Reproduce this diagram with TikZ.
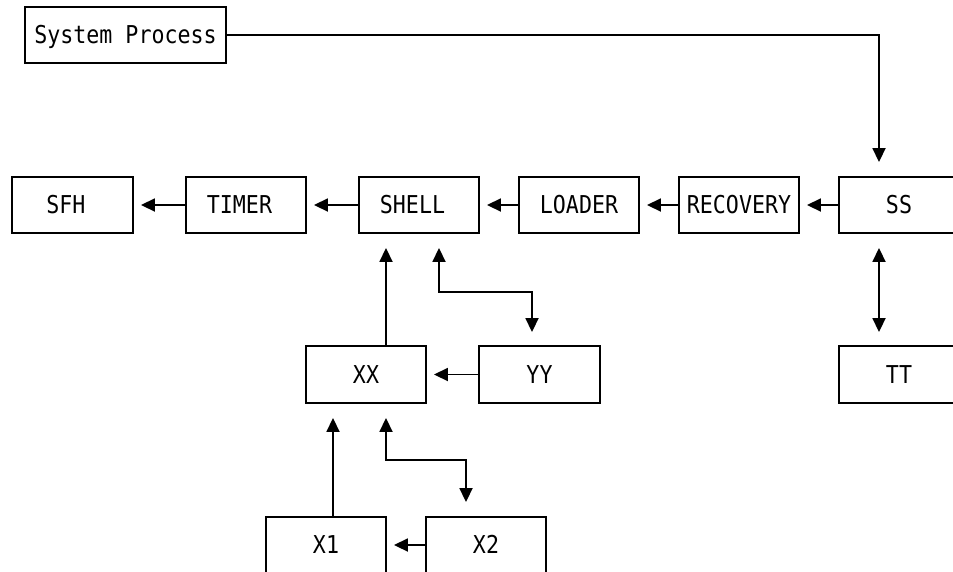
\documentclass[tikz,border=0pt]{standalone}
\usepackage{fontspec}
\setmonofont[FakeStretch=0.88]{DejaVu Sans Mono}
\usetikzlibrary{arrows.meta}
\tikzset{
  x=1pt, y=-1pt,
  blk/.style={draw, line width=1.9pt, rectangle, minimum width=120pt, minimum height=56pt,
    inner sep=0pt, text height=17.9pt, text depth=0pt,
    font=\ttfamily\fontsize{24.6}{28}\selectfont},
  wire/.style={line width=1.8pt},
  tip/.style={-{Triangle[length=14pt,width=13pt]}},
  tips/.style={{Triangle[length=14pt,width=13pt]}-{Triangle[length=14pt,width=13pt]}},
}
% odd-length labels sit on the character grid, half a cell left of centre
\newcommand{\pad}{\phantom{X}}
\begin{document}
\begin{tikzpicture}
\useasboundingbox (0,0) rectangle (953,571);
\clip (0,0) rectangle (953,571);

% process boxes
\node[blk, minimum width=201pt] (sp) at (125.5,35) {System Process};
\node[blk, minimum width=121pt] (sfh) at (72.5,205) {SFH\pad};
\node[blk] (timer) at (246,205) {TIMER\pad};
\node[blk] (shell) at (419,205) {SHELL\pad};
\node[blk] (loader) at (579,205) {LOADER};
\node[blk] (recovery) at (739,205) {RECOVERY};
\node[blk] (ss) at (899,205) {SS};
\node[blk, minimum height=57pt] (xx) at (366,374.5) {XX};
\node[blk, minimum width=121pt, minimum height=57pt] (yy) at (539.5,374.5) {YY\hspace{-5pt}};
\node[blk, minimum height=57pt] (tt) at (899,374.5) {TT};
\node[blk] (x1) at (326,545) {X1};
\node[blk] (x2) at (486,545) {X2};

% main chain
\draw[wire, tip, shorten >=14pt] (sp.east) -| ([xshift=-20pt]ss.north);
\draw[wire, tip, shorten >=7pt] (ss.west) -- (recovery.east);
\draw[wire, tip, shorten >=7pt] (recovery.west) -- (loader.east);
\draw[wire, tip, shorten >=7pt] (loader.west) -- (shell.east);
\draw[wire, tip, shorten >=7pt] (shell.west) -- (timer.east);
\draw[wire, tip, shorten >=7pt] (timer.west) -- (sfh.east);

% SS <-> TT
\draw[wire, tips, shorten <=14pt, shorten >=13pt] ([xshift=-20pt]ss.south) -- ([xshift=-20pt]tt.north);

% XX / YY group
\draw[wire, tip, shorten >=14pt] ([xshift=20pt]xx.north) -- ([xshift=20pt]xx.north |- shell.south);
\coordinate (sy) at ([xshift=20pt]shell.south);
\draw[wire, tips, shorten <=14pt, shorten >=13pt] (sy) -- ++(0,58) -| ([xshift=-7.5pt]yy.north);
\draw[wire, tip, shorten >=7pt] (yy.west) -- (xx.east);

% X1 / X2 group
\draw[wire, tip, shorten >=14pt] ([xshift=7pt]x1.north) -- ([xshift=7pt]x1.north |- xx.south);
\coordinate (xy) at ([xshift=20pt]xx.south);
\draw[wire, tips, shorten <=14pt, shorten >=14pt] (xy) -- ++(0,56) -| ([xshift=-20pt]x2.north);
\draw[wire, tip, shorten >=7pt] (x2.west) -- (x1.east);
\end{tikzpicture}
\end{document}
